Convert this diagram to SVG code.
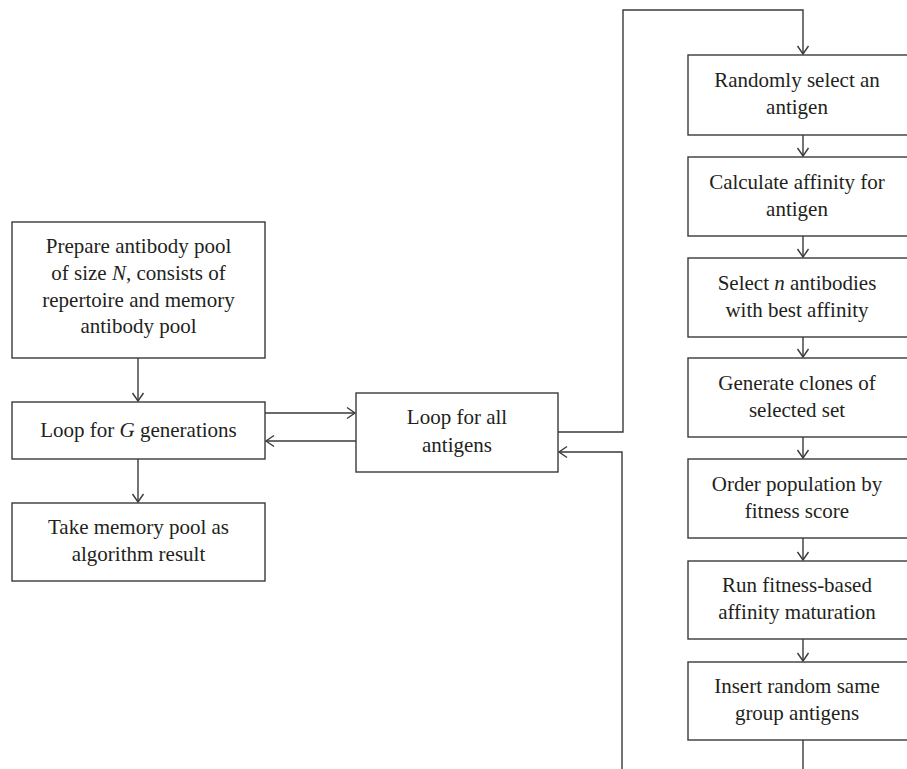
<svg xmlns="http://www.w3.org/2000/svg" width="907" height="769" viewBox="0 0 907 769">
<style>
.box{fill:#fff;stroke:#3a3a3a;stroke-width:1.4}
.c{fill:none;stroke:#3a3a3a;stroke-width:1.4}
text{font-family:"Liberation Serif","Times New Roman",serif;font-size:21px;fill:#231f20;text-anchor:middle}
.i{font-style:italic}
</style>
<defs>
<marker id="ah" markerUnits="userSpaceOnUse" markerWidth="20" markerHeight="20" viewBox="-10 -10 20 20" refX="0" refY="0" orient="auto">
<path d="M-8,-5.5 L0,0 L-8,5.5" fill="none" stroke="#3a3a3a" stroke-width="1.4"/>
</marker>
</defs>
<rect width="907" height="769" fill="#fff"/>
<g id="connectors">
<polyline class="c" points="138,358 138,401" marker-end="url(#ah)"/>
<polyline class="c" points="138,459 138,502" marker-end="url(#ah)"/>
<polyline class="c" points="265,413 355,413" marker-end="url(#ah)"/>
<polyline class="c" points="356,441 266,441" marker-end="url(#ah)"/>
<polyline class="c" points="558,432 623,432 623,10 803,10 803,54" marker-end="url(#ah)"/>
<polyline class="c" points="622,769 622,452 559,452" marker-end="url(#ah)"/>
<polyline class="c" points="803,135 803,156" marker-end="url(#ah)"/>
<polyline class="c" points="803,236 803,257" marker-end="url(#ah)"/>
<polyline class="c" points="803,337 803,357" marker-end="url(#ah)"/>
<polyline class="c" points="803,437 803,458" marker-end="url(#ah)"/>
<polyline class="c" points="803,538 803,560" marker-end="url(#ah)"/>
<polyline class="c" points="803,639 803,661" marker-end="url(#ah)"/>
<polyline class="c" points="803,740 803,769"/>
</g>
<g id="prepare">
<rect class="box" x="12" y="222" width="253" height="136"/>
<text x="138.5" y="253">Prepare antibody pool</text>
<text x="138.5" y="280">of size <tspan class="i">N</tspan>, consists of</text>
<text x="138.5" y="307">repertoire and memory</text>
<text x="138.5" y="333">antibody pool</text>
</g>
<g id="loopG">
<rect class="box" x="12" y="402" width="253" height="57"/>
<text x="138.5" y="437">Loop for <tspan class="i">G</tspan> generations</text>
</g>
<g id="take">
<rect class="box" x="12" y="503" width="253" height="78"/>
<text x="138.5" y="534">Take memory pool as</text>
<text x="138.5" y="561">algorithm result</text>
</g>
<g id="loopAll">
<rect class="box" x="356" y="393" width="202" height="79"/>
<text x="457" y="424">Loop for all</text>
<text x="457" y="452">antigens</text>
</g>
<g id="randomly">
<rect class="box" x="688" y="55" width="240" height="80"/>
<text x="797" y="87">Randomly select an</text>
<text x="797" y="114">antigen</text>
</g>
<g id="calculate">
<rect class="box" x="688" y="157" width="240" height="79"/>
<text x="797" y="189">Calculate affinity for</text>
<text x="797" y="216">antigen</text>
</g>
<g id="select">
<rect class="box" x="688" y="258" width="240" height="79"/>
<text x="797" y="290">Select <tspan class="i">n</tspan> antibodies</text>
<text x="797" y="317">with best affinity</text>
</g>
<g id="generate">
<rect class="box" x="688" y="358" width="240" height="79"/>
<text x="797" y="390">Generate clones of</text>
<text x="797" y="417">selected set</text>
</g>
<g id="order">
<rect class="box" x="688" y="459" width="240" height="79"/>
<text x="797" y="491">Order population by</text>
<text x="797" y="518">fitness score</text>
</g>
<g id="run">
<rect class="box" x="688" y="561" width="240" height="78"/>
<text x="797" y="592">Run fitness-based</text>
<text x="797" y="619">affinity maturation</text>
</g>
<g id="insert">
<rect class="box" x="688" y="662" width="240" height="78"/>
<text x="797" y="693">Insert random same</text>
<text x="797" y="720">group antigens</text>
</g>
</svg>
